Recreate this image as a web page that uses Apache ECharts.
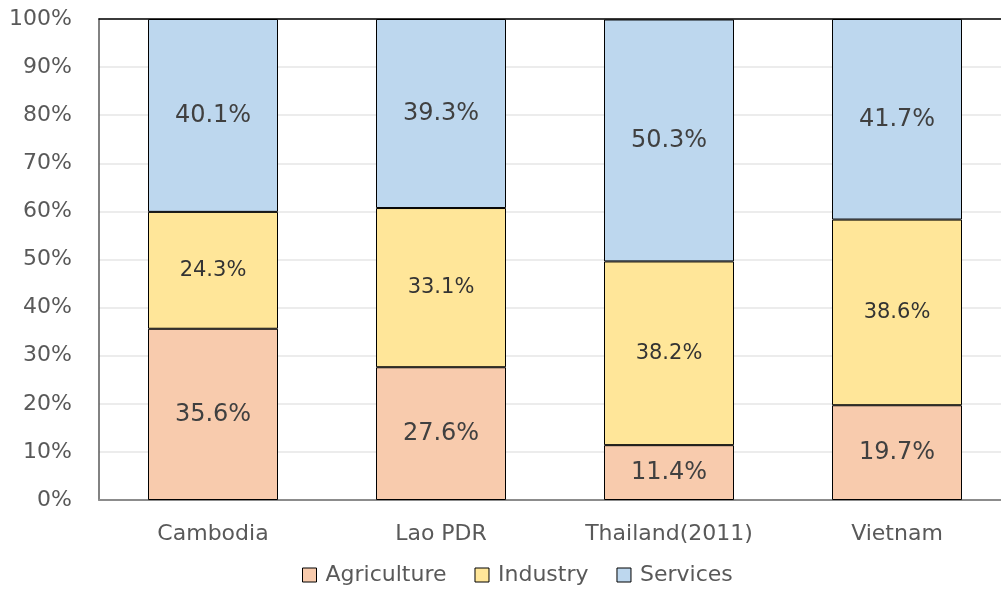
<!DOCTYPE html>
<html><head><meta charset="utf-8">
<script src="https://cdn.jsdelivr.net/npm/echarts@6/dist/echarts.min.js"></script>
<style>html,body{margin:0;padding:0;background:#fff}#c{width:1001px;height:590px}</style>
</head><body><div id="c"></div>
<script>
var categories = ['Cambodia', 'Lao PDR', 'Thailand(2011)', 'Vietnam'];
var agriculture = [35.6, 27.6, 11.4, 19.7];
var industry = [24.3, 33.1, 38.2, 38.6];
var services = [40.1, 39.3, 50.3, 41.7];
var seriesNames = ['Agriculture', 'Industry', 'Services'];

var FONT = '"DejaVu Sans", sans-serif';
var chart = echarts.init(document.getElementById('c'));
function mk(name, data, color, fs, fw, col) {
  return {
    name: name, type: 'bar', stack: 's', data: data, barWidth: 130,
    itemStyle: { color: color, borderColor: '#000', borderWidth: 1 },
    label: { show: true, position: 'inside', formatter: function (p) { return p.value.toFixed(1) + '%'; },
      color: col, fontSize: fs, fontWeight: fw, fontFamily: FONT }
  };
}
chart.setOption({
  animation: false,
  grid: { left: 99, width: 912, top: 19, bottom: 90, containLabel: false, outerBoundsMode: 'none' },
  legend: { left: 297, top: 559, icon: 'rect', itemWidth: 14, itemHeight: 14, itemGap: 28,
    textStyle: { color: '#595959', fontSize: 22, fontFamily: FONT, padding: [0, 0, 0, 4] },
    data: seriesNames.map(function (n) { return { name: n, itemStyle: { borderColor: '#000', borderWidth: 1 } }; }) },
  xAxis: [{ type: 'category', data: categories,
    axisLine: { lineStyle: { color: '#8c8c8c', width: 2 } }, axisTick: { show: false },
    axisLabel: { color: '#595959', fontSize: 22, fontFamily: FONT, margin: 23 } },
    { type: 'category', position: 'top', data: categories, axisLine: { lineStyle: { color: '#000', width: 1.5 } },
      axisTick: { show: false }, axisLabel: { show: false } }],
  yAxis: { type: 'value', min: 0, max: 100, interval: 10,
    axisLine: { show: true, lineStyle: { color: '#595959', width: 1.5 } },
    axisTick: { show: false },
    splitLine: { lineStyle: { color: '#e6e6e6', width: 1.5 } },
    axisLabel: { formatter: '{value}%', color: '#595959', fontSize: 22, fontFamily: FONT, margin: 27 } },
  series: [
    mk(seriesNames[0], agriculture, '#F8CBAD', 24, 'normal', '#404040'),
    mk(seriesNames[1], industry, '#FFE699', 21, 'normal', '#333333'),
    mk(seriesNames[2], services, '#BDD7EE', 24, 'normal', '#404040')
  ]
});
</script></body></html>
